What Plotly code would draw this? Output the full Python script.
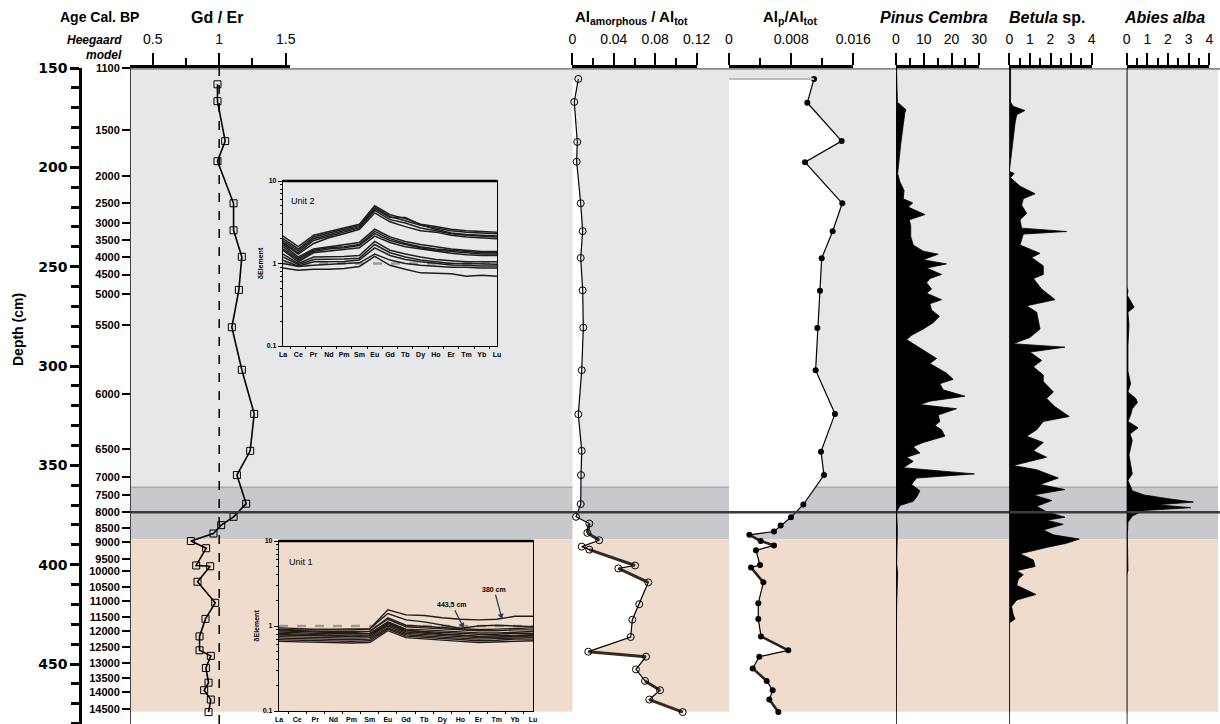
import math
import plotly.graph_objects as go

W, H = 1220, 724
TOP = 68
PH = H - TOP

def px(p):
    return p / W

def py(p):
    return 1 - (p - TOP) / PH

# ---------------- data ----------------
depth_ticks = [150, 200, 250, 300, 350, 400, 450]

age_labels = ["1100", "1500", "2000", "2500", "3000", "3500", "4000", "4500", "5000", "5500",
              "6000", "6500", "7000", "7500", "8000", "8500", "9000", "9500", "10000", "10500",
              "11000", "11500", "12000", "12500", "13000", "13500", "14000", "14500"]
age_depths = [150, 181.2, 204.3, 217.8, 227.9, 236.4, 245.0, 254.0, 263.6, 279.6,
              314.3, 342.0, 356.0, 365.0, 373.6, 381.6, 388.7, 397.2, 403.2, 411.2,
              418.3, 426.3, 433.4, 441.4, 449.4, 457.0, 464.0, 472.5]

# zones: (top depth, bottom depth, colour)
zone_tops = [150, 361.0, 387.6]
zone_bottoms = [361.0, 387.3, 474.0]
zone_colors = ["#e6e7e9", "#c8c9cc", "#efdccd"]
boundary_8000 = 373.6

gd_er_depth = [158.2, 166.7, 186.8, 196.9, 218.1, 231.7, 245.0, 261.7, 280.5, 301.9, 324.1,
               342.7, 354.9, 369.3, 375.9, 380.1, 384.3, 388.1, 391.7, 400.4, 400.8, 408.6,
               419.2, 427.3, 436.1, 443.1, 445.9, 452.0, 459.4, 463.2, 467.9, 474.2]
gd_er = [0.987, 0.987, 1.045, 0.987, 1.108, 1.108, 1.17, 1.148, 1.095, 1.17, 1.263,
         1.233, 1.133, 1.203, 1.108, 1.015, 0.957, 0.787, 0.902, 0.827, 0.932, 0.837,
         0.97, 0.897, 0.852, 0.852, 0.937, 0.90, 0.92, 0.887, 0.937, 0.92]

al_am_depth = [155.5, 167.1, 187.2, 197.2, 218.1, 232.1, 245.6, 261.9, 280.7, 302.1, 324.3,
               342.7, 354.9, 369.5, 375.9, 379.3, 384.0, 387.7, 390.9, 392.4, 400.4, 401.9,
               408.9, 419.9, 427.7, 436.4, 443.8, 446.3, 452.7, 458.5, 463.2, 467.9, 474.2]
al_am = [0.0058, 0.0019, 0.0048, 0.0042, 0.0081, 0.0100, 0.0081, 0.0100, 0.0106, 0.0091, 0.0058,
         0.0091, 0.0084, 0.0081, 0.0036, 0.0164, 0.0145, 0.0260, 0.0091, 0.0164, 0.0605, 0.0444,
         0.0733, 0.0646, 0.0579, 0.0563, 0.0154, 0.0711, 0.0614, 0.0701, 0.0846, 0.0743, 0.1065]
al_am_thick_pairs = [(15, 16), (16, 17), (19, 20), (21, 22), (26, 27), (29, 30), (31, 32)]

al_p_depth = [155.5, 167.5, 186.8, 197.4, 218.1, 232.2, 245.8, 262.1, 280.9, 302.1, 324.1,
              343.1, 354.9, 369.7, 376.1, 380.3, 383.3, 385.0, 388.1, 390.3, 392.8, 400.2,
              401.4, 408.9, 419.4, 427.3, 436.1, 443.1, 446.3, 452.2, 458.5, 463.2, 467.9, 474.2]
al_p = [0.01094, 0.01008, 0.0145, 0.00978, 0.01458, 0.01334, 0.01193, 0.01171, 0.01137, 0.01115,
        0.01364, 0.01184, 0.01223, 0.00957, 0.00798, 0.00665, 0.00579, 0.00262, 0.00408, 0.00579,
        0.00347, 0.00399, 0.00283, 0.00442, 0.00377, 0.00377, 0.00412, 0.00763, 0.0039, 0.00305,
        0.00485, 0.00562, 0.00519, 0.00635]
al_p_thick_pairs = [(17, 18), (18, 19), (22, 23), (26, 27), (29, 30), (32, 33)]

pinus_depth = [150, 152.3, 167.2, 171.0, 172.4, 188.3, 203.1, 207.3, 211.6, 215.8, 217.9, 220.0,
               223.8, 226.4, 229.5, 234.8, 239.1, 242.2, 243.7, 246.5, 248.6, 250.7, 253.9, 256.0,
               258.1, 261.3, 263.4, 266.6, 268.7, 271.8, 275.0, 278.2, 281.4, 284.5, 286.7, 288.8,
               291.9, 296.2, 298.7, 303.6, 306.7, 308.9, 312.0, 315.2, 317.7, 319.4, 321.5, 324.7,
               327.9, 330.0, 332.1, 335.3, 338.5, 340.6, 343.8, 345.9, 348.0, 351.2, 354.3, 356.4,
               359.6, 362.8, 366.0, 368.1, 370.2, 373.4, 382.9, 399.8, 404.0, 421.0, 442.1, 474.9]
pinus = [0.2, 0.24, 0.5, 3.6, 3.2, 1.7, 0.6, 1.4, 2.9, 2.6, 6.0, 4.4,
         10.4, 4.8, 5.3, 5.3, 6.2, 9.8, 15.2, 9.8, 18.2, 11.0, 16.4, 12.2,
         11.0, 12.8, 11.0, 16.4, 12.2, 12.8, 15.6, 13.4, 9.8, 5.6, 3.8, 6.2,
         9.8, 14.6, 12.2, 18.2, 20.6, 15.8, 17.0, 24.8, 12.2, 8.6, 21.8, 15.2,
         15.8, 14.0, 16.4, 17.6, 9.8, 6.2, 8.6, 3.8, 6.2, 2.6, 28.2, 7.4,
         5.6, 8.6, 7.4, 6.2, 1.4, 0.24, 0.5, 0.24, 0.6, 0.24, 0.1, 0.0]

betula_depth = [150, 152.3, 167.2, 169.3, 171.4, 173.5, 177.7, 188.3, 198.9, 202.0, 203.1, 205.2,
                209.5, 213.3, 215.8, 219.0, 223.2, 226.4, 230.6, 232.3, 233.6, 239.1, 243.3, 245.4,
                249.6, 253.9, 256.0, 261.3, 266.6, 269.7, 272.9, 277.1, 281.4, 285.6, 288.8, 290.5,
                293.0, 297.2, 300.4, 304.6, 307.8, 313.1, 316.3, 320.5, 325.4, 327.9, 332.1, 335.3,
                338.5, 342.7, 345.9, 350.1, 352.2, 356.4, 359.6, 362.2, 364.9, 367.7, 370.6, 373.4,
                376.1, 377.6, 379.7, 382.5, 385.0, 387.1, 389.2, 391.3, 394.5, 397.7, 400.9, 403.0,
                405.1, 407.2, 410.4, 415.0, 417.8, 421.0, 425.2, 427.3, 429.4, 474.9]
betula = [0.06, 0.06, 0.06, 0.19, 0.76, 0.36, 0.28, 0.16, 0.06, 0.0, 0.23, 0.06,
          0.52, 1.25, 0.68, 0.60, 0.84, 0.52, 0.60, 2.78, 0.68, 0.52, 1.49, 1.08,
          1.65, 1.65, 1.17, 1.57, 2.22, 0.84, 1.33, 1.41, 1.49, 1.00, 0.19, 2.70,
          1.00, 1.57, 1.17, 1.65, 1.65, 2.14, 1.81, 2.22, 2.91, 1.65, 1.33, 0.84,
          1.65, 1.17, 1.81, 0.19, 1.33, 2.38, 1.49, 2.70, 1.17, 2.06, 1.33, 1.81,
          2.70, 1.81, 2.62, 1.65, 2.14, 3.40, 2.78, 1.81, 0.52, 1.17, 1.25, 0.36,
          0.68, 0.44, 0.36, 1.29, 0.36, 0.11, 0.19, 0.28, 0.0, 0.0]

abies_depth = [150, 260.2, 261.9, 264.4, 270.4, 272.9, 279.2, 289.8, 302.5, 308.9, 313.1, 316.3,
               318.4, 321.5, 324.7, 327.9, 331.1, 334.2, 337.4, 344.8, 354.3, 357.5, 362.8, 364.9,
               367.0, 368.5, 369.8, 371.3, 372.7, 375.5, 378.7, 385.0, 403.0, 405.1, 474.9]
abies = [0.0, 0.0, 0.06, 0.03, 0.36, 0.06, 0.11, 0.06, 0.06, 0.19, 0.06, 0.44,
         0.52, 0.27, 0.19, 0.06, 0.55, 0.16, 0.27, 0.11, 0.27, 0.06, 0.27, 0.84,
         2.13, 3.23, 1.49, 3.10, 0.84, 0.27, 0.06, 0.03, 0.06, 0.0, 0.0]

elements = ["La", "Ce", "Pr", "Nd", "Pm", "Sm", "Eu", "Gd", "Tb", "Dy", "Ho", "Er", "Tm", "Yb", "Lu"]

unit2_profiles = [
    [2.15, 1.60, 2.20, 2.45, 2.70, 3.00, 5.00, 3.90, 3.50, 3.00, 2.80, 2.60, 2.50, 2.45, 2.40],
    [2.00, 1.50, 2.10, 2.35, 2.60, 2.90, 4.80, 3.70, 3.30, 2.90, 2.70, 2.50, 2.40, 2.35, 2.30],
    [1.90, 1.42, 2.00, 2.25, 2.50, 2.80, 4.60, 3.60, 3.60, 2.95, 2.60, 2.35, 2.25, 2.20, 2.15],
    [1.80, 1.35, 1.90, 2.15, 2.40, 2.70, 4.40, 3.40, 3.10, 2.70, 2.50, 2.30, 2.20, 2.15, 2.10],
    [1.75, 1.30, 1.75, 2.05, 2.30, 2.60, 4.10, 3.20, 2.80, 2.50, 2.40, 2.20, 2.10, 2.05, 2.00],
    [1.70, 1.20, 1.50, 1.60, 1.70, 1.80, 2.60, 2.10, 1.85, 1.70, 1.60, 1.50, 1.45, 1.40, 1.40],
    [1.60, 1.15, 1.45, 1.55, 1.60, 1.70, 2.45, 2.00, 1.75, 1.60, 1.50, 1.45, 1.40, 1.35, 1.35],
    [1.50, 1.10, 1.40, 1.50, 1.55, 1.65, 2.30, 1.90, 1.70, 1.55, 1.45, 1.40, 1.35, 1.30, 1.30],
    [1.45, 1.05, 1.35, 1.42, 1.48, 1.55, 2.15, 1.80, 1.60, 1.50, 1.40, 1.33, 1.28, 1.25, 1.25],
    [1.30, 1.00, 1.20, 1.20, 1.22, 1.25, 1.85, 1.45, 1.30, 1.20, 1.12, 1.08, 1.05, 1.05, 1.05],
    [1.20, 0.97, 1.12, 1.12, 1.13, 1.16, 1.70, 1.35, 1.20, 1.10, 1.05, 1.00, 1.00, 0.98, 0.98],
    [1.10, 0.93, 1.05, 1.05, 1.06, 1.10, 1.55, 1.25, 1.12, 1.05, 1.00, 0.96, 0.95, 0.93, 0.93],
    [1.00, 0.92, 0.95, 0.98, 1.00, 1.02, 1.30, 1.10, 1.00, 0.95, 0.92, 0.90, 0.90, 0.88, 0.88],
    [0.88, 0.83, 0.85, 0.85, 0.87, 0.92, 1.22, 0.95, 0.85, 0.77, 0.76, 0.75, 0.70, 0.72, 0.70],
]

unit1_profiles = [
    [0.92, 0.90, 0.90, 0.90, 0.90, 0.92, 1.55, 1.35, 1.33, 1.25, 1.20, 1.18, 1.20, 1.30, 1.30],
    [0.95, 0.93, 0.92, 0.92, 0.92, 0.93, 1.40, 1.18, 1.12, 1.02, 0.94, 1.00, 1.02, 1.00, 0.98],
    [0.90, 0.88, 0.87, 0.86, 0.86, 0.87, 1.20, 0.98, 0.95, 0.93, 0.90, 0.88, 0.88, 0.90, 0.90],
    [0.88, 0.86, 0.85, 0.84, 0.84, 0.86, 1.25, 1.02, 0.98, 0.96, 0.93, 0.91, 0.92, 0.94, 0.95],
    [0.85, 0.83, 0.82, 0.81, 0.81, 0.82, 1.12, 0.92, 0.90, 0.88, 0.85, 0.83, 0.83, 0.85, 0.86],
    [0.82, 0.80, 0.79, 0.78, 0.78, 0.79, 1.08, 0.88, 0.86, 0.84, 0.82, 0.80, 0.80, 0.82, 0.82],
    [0.80, 0.78, 0.78, 0.77, 0.76, 0.77, 1.10, 0.90, 0.84, 0.80, 0.78, 0.75, 0.74, 0.76, 0.78],
    [0.78, 0.77, 0.76, 0.75, 0.75, 0.76, 1.04, 0.85, 0.82, 0.80, 0.78, 0.76, 0.77, 0.78, 0.79],
    [0.75, 0.74, 0.73, 0.72, 0.72, 0.73, 1.00, 0.82, 0.79, 0.77, 0.75, 0.73, 0.74, 0.75, 0.76],
    [0.72, 0.71, 0.70, 0.69, 0.69, 0.70, 0.95, 0.79, 0.76, 0.74, 0.72, 0.70, 0.71, 0.72, 0.73],
    [0.69, 0.68, 0.67, 0.66, 0.66, 0.67, 0.92, 0.76, 0.74, 0.72, 0.69, 0.67, 0.68, 0.70, 0.70],
    [0.66, 0.65, 0.64, 0.63, 0.63, 0.64, 0.88, 0.73, 0.71, 0.69, 0.66, 0.64, 0.65, 0.67, 0.67],
]

# ---------------- figure ----------------
FONT = "Liberation Sans"
fig = go.Figure()

def pair_segments(vals, deps, pairs):
    xs, ys = [], []
    for a, b in pairs:
        xs += [vals[a], vals[b], None]
        ys += [deps[a], deps[b], None]
    return xs, ys

fig.add_trace(go.Scatter(x=gd_er, y=gd_er_depth, xaxis="x", yaxis="y", mode="lines+markers",
                         line=dict(color="black", width=1.6),
                         marker=dict(symbol="square-open", size=7, color="black", line=dict(width=1)),
                         showlegend=False, cliponaxis=False))
# invisible trace for the age axis
fig.add_trace(go.Scatter(x=[1.0] * len(age_depths), y=age_depths, xaxis="x", yaxis="y2",
                         mode="markers", marker=dict(opacity=0), showlegend=False, hoverinfo="skip"))

fig.add_trace(go.Scatter(x=al_am, y=al_am_depth, xaxis="x2", yaxis="y", mode="lines",
                         fill="tozerox", fillcolor="white",
                         line=dict(color="black", width=1.2), showlegend=False))
sx, sy = pair_segments(al_am, al_am_depth, al_am_thick_pairs)
fig.add_trace(go.Scatter(x=sx, y=sy, xaxis="x2", yaxis="y", mode="lines",
                         line=dict(color="#3a2a1e", width=3), showlegend=False))
fig.add_trace(go.Scatter(x=al_am, y=al_am_depth, xaxis="x2", yaxis="y", mode="markers",
                         marker=dict(symbol="circle-open", size=7, color="black", line=dict(width=1)),
                         showlegend=False, cliponaxis=False))

fig.add_trace(go.Scatter(x=al_p, y=al_p_depth, xaxis="x3", yaxis="y", mode="lines",
                         fill="tozerox", fillcolor="white",
                         line=dict(color="black", width=1.2), showlegend=False))
sx, sy = pair_segments(al_p, al_p_depth, al_p_thick_pairs)
fig.add_trace(go.Scatter(x=sx, y=sy, xaxis="x3", yaxis="y", mode="lines",
                         line=dict(color="#2a211a", width=2.6), showlegend=False))
fig.add_trace(go.Scatter(x=al_p, y=al_p_depth, xaxis="x3", yaxis="y", mode="markers",
                         marker=dict(symbol="circle", size=6, color="black"),
                         showlegend=False, cliponaxis=False))

for xa, vals, deps in (("x4", pinus, pinus_depth), ("x5", betula, betula_depth), ("x6", abies, abies_depth)):
    fig.add_trace(go.Scatter(x=vals, y=deps, xaxis=xa, yaxis="y", mode="lines",
                             fill="tozerox", fillcolor="black",
                             line=dict(color="black", width=0.8), showlegend=False))

for prof in unit2_profiles:
    fig.add_trace(go.Scatter(x=elements, y=prof, xaxis="x7", yaxis="y7", mode="lines",
                             line=dict(color="#1e1e1e", width=1.5), showlegend=False))
for prof in unit1_profiles:
    fig.add_trace(go.Scatter(x=elements, y=prof, xaxis="x8", yaxis="y8", mode="lines",
                             line=dict(color="#241c16", width=1.4), showlegend=False))

# ---------------- shapes ----------------
shapes = []
for t, b, c in zip(zone_tops, zone_bottoms, zone_colors):
    shapes.append(dict(type="rect", xref="paper", yref="y", x0=px(130), x1=px(1218), y0=t, y1=b,
                       fillcolor=c, line=dict(width=0), layer="below"))
shapes.append(dict(type="line", xref="paper", yref="y", x0=px(130), x1=px(1218),
                   y0=zone_tops[1], y1=zone_tops[1], line=dict(color="#a9aaad", width=1.5), layer="below"))
shapes.append(dict(type="line", xref="paper", yref="y", x0=px(130), x1=px(1220),
                   y0=boundary_8000, y1=boundary_8000, line=dict(color="#3a3a3a", width=2.5), layer="above"))
shapes.append(dict(type="line", xref="paper", yref="y", x0=px(130), x1=px(1220),
                   y0=150, y1=150, line=dict(color="#8a8a8a", width=3.5), layer="below"))
shapes.append(dict(type="line", xref="x", yref="paper", x0=1, x1=1, y0=0, y1=1,
                   line=dict(color="black", width=1.5, dash="dash"), layer="above"))
for xa in ("x4", "x5", "x6"):
    shapes.append(dict(type="line", xref=xa, yref="paper", x0=0, x1=0, y0=0, y1=1,
                       line=dict(color="black", width=1.5), layer="above"))
shapes.append(dict(type="line", xref="x3", yref="y", x0=0, x1=al_p[0], y0=al_p_depth[0], y1=al_p_depth[0],
                   line=dict(color="#bdbdbd", width=2), layer="above"))
for xa, ya in (("x7", "y7"), ("x8", "y8")):
    shapes.append(dict(type="line", xref=xa + " domain", yref=ya, x0=0, x1=1, y0=1, y1=1,
                       line=dict(color="#9a9a9a", width=2.5, dash="dash"), layer="below"))
    shapes.append(dict(type="line", xref=xa + " domain", yref=ya + " domain", x0=0, x1=1, y0=1, y1=1,
                       line=dict(color="black", width=2.5), layer="above"))

# ---------------- axes ----------------
def top_axis(d0, d1, rng, tv, tt, minor_dtick):
    return dict(domain=[px(d0), px(d1)], range=rng, anchor="y", side="top", automargin=False,
                showline=True, linecolor="black", linewidth=2.5,
                ticks="outside", ticklen=12, tickwidth=1.5, tickcolor="black",
                tickmode="array", tickvals=tv, ticktext=tt, ticklabelstandoff=4,
                tickfont=dict(family=FONT, size=14, color="black"),
                minor=dict(ticks="outside", ticklen=7, tickwidth=1.5, tickcolor="black",
                           tickmode="linear", tick0=0, dtick=minor_dtick),
                showgrid=False, zeroline=False, fixedrange=True)

gd_scale = 133.0
layout_axes = dict(
    xaxis=top_axis(130, 290, [0.5 - (152.7 - 130) / gd_scale, 0.5 + (290 - 152.7) / gd_scale],
                   [0.5, 1, 1.5], ["0.5", "1", "1.5"], 0.25),
    xaxis2=top_axis(572.3, 696.7, [0, 0.12], [0, 0.04, 0.08, 0.12], ["0", "0.04", "0.08", "0.12"], 0.02),
    xaxis3=top_axis(729, 853.3, [0, 0.016], [0, 0.008, 0.016], ["0", "0.008", "0.016"], 0.004),
    xaxis4=top_axis(896, 979.3, [0, 30], [0, 10, 20, 30], ["0", "10", "20", "30"], 5),
    xaxis5=top_axis(1009.3, 1091.7, [0, 4], [0, 1, 2, 3, 4], ["0", "1", "2", "3", "4"], 0.5),
    xaxis6=top_axis(1126.7, 1209.3, [0, 4], [0, 1, 2, 3, 4], ["0", "1", "2", "3", "4"], 0.5),
)

depth_range = [150 + PH / 1.9867, 150]
layout_axes["yaxis"] = dict(domain=[0, 1], range=depth_range, anchor="free", position=px(80), side="left",
                            automargin=False,
                            showline=True, linecolor="black", linewidth=2.5,
                            ticks="outside", ticklen=9, tickwidth=2.5, tickcolor="black",
                            tickmode="array", tickvals=depth_ticks,
                            tickfont=dict(family="DejaVu Sans", size=14, color="black", weight="bold"),
                            minor=dict(ticks="outside", ticklen=8, tickwidth=2.5, tickcolor="black",
                                       tickmode="linear", tick0=0, dtick=10),
                            showgrid=False, zeroline=False, fixedrange=True)
layout_axes["yaxis2"] = dict(overlaying="y", range=depth_range, anchor="free", position=px(130), side="left",
                             automargin=False,
                             showline=True, linecolor="#444", linewidth=1,
                             ticks="outside", ticklen=8, tickwidth=2, tickcolor="black",
                             tickmode="array", tickvals=age_depths, ticktext=age_labels,
                             tickfont=dict(family="Liberation Sans Narrow, Liberation Sans", size=11,
                                           color="black", weight="bold"),
                             showgrid=False, zeroline=False, fixedrange=True)

minor_log = [0.2, 0.3, 0.4, 0.5, 0.6, 0.7, 0.8, 0.9, 2, 3, 4, 5, 6, 7, 8, 9]

def inset_axes(x0, x1, y_top, y_bot, anchor_x, anchor_y):
    xa = dict(domain=[px(x0), px(x1)], anchor=anchor_y, type="category", automargin=False,
              categoryorder="array", categoryarray=elements, tickson="boundaries",
              tickmode="linear", tick0=0, dtick=1, tickangle=0,
              ticks="outside", ticklen=2, tickwidth=1, tickcolor="black", ticklabelstandoff=1,
              showline=True, linecolor="black", linewidth=1.3, mirror=True,
              tickfont=dict(family=FONT, size=7, color="black", weight="bold"),
              showgrid=False, zeroline=False, fixedrange=True)
    ya = dict(domain=[py(y_bot), py(y_top)], anchor=anchor_x, type="log", range=[-1, 1], automargin=False,
              tickmode="array", tickvals=[0.1, 1, 10], ticktext=["0.1", "1", "10"],
              ticks="outside", ticklen=4, tickwidth=1, tickcolor="black",
              showline=True, linecolor="black", linewidth=1.3, mirror=True,
              minor=dict(ticks="outside", ticklen=2, tickwidth=1, tickcolor="black",
                         tickmode="array", tickvals=minor_log),
              tickfont=dict(family=FONT, size=7, color="black", weight="bold"),
              title=dict(text="δElement", font=dict(family=FONT, size=7, color="black", weight="bold"),
                         standoff=2),
              showgrid=False, zeroline=False, fixedrange=True)
    return xa, ya

layout_axes["xaxis7"], layout_axes["yaxis7"] = inset_axes(283, 497, 181, 346, "x7", "y7")
layout_axes["xaxis8"], layout_axes["yaxis8"] = inset_axes(279, 533, 541, 711, "x8", "y8")

# ---------------- annotations ----------------
def txt(x, y, text, size=14, bold=True, italic=False, xanchor="center", angle=0, fam=FONT):
    t = f"<i>{text}</i>" if italic else text
    return dict(x=px(x), y=py(y), xref="paper", yref="paper", text=t, showarrow=False,
                xanchor=xanchor, yanchor="middle", textangle=angle,
                font=dict(family=fam, size=size, color="black", weight="bold" if bold else "normal"))

annotations = [
    txt(99, 17, "Age Cal. BP", 14),
    txt(124, 40, "Heegaard", 12, italic=True, xanchor="right"),
    txt(124, 55, "model", 12, italic=True, xanchor="right"),
    txt(217, 17, "Gd / Er", 16),
    txt(631, 17, "Al<sub>amorphous</sub> / Al<sub>tot</sub>", 15),
    txt(790, 17, "Al<sub>p</sub>/Al<sub>tot</sub>", 15),
    txt(934, 17, "Pinus Cembra", 16, italic=True),
    txt(1047, 17, "<i>Betula</i> sp.", 16),
    txt(1164, 17, "Abies alba", 16, italic=True),
    txt(18, 330, "Depth (cm)", 14, angle=-90),
    dict(x=0.03, y=0.92, xref="x7 domain", yref="y7 domain", text="Unit 2", showarrow=False,
         xanchor="left", font=dict(family=FONT, size=9, color="black")),
    dict(x=0.03, y=0.92, xref="x8 domain", yref="y8 domain", text="Unit 1", showarrow=False,
         xanchor="left", font=dict(family=FONT, size=9, color="black")),
    dict(x=elements.index("Ho") + 0.2, y=math.log10(0.93), xref="x8", yref="y8", text="443,5 cm",
         showarrow=True, arrowhead=2, arrowsize=0.9, arrowwidth=1.3, ax=-12, ay=-24,
         font=dict(family=FONT, size=7, color="black", weight="bold")),
    dict(x=elements.index("Tm") + 0.3, y=math.log10(1.19), xref="x8", yref="y8", text="380 cm",
         showarrow=True, arrowhead=2, arrowsize=0.9, arrowwidth=1.3, ax=-8, ay=-30,
         font=dict(family=FONT, size=7, color="black", weight="bold")),
]

fig.update_layout(width=W, height=H, margin=dict(l=0, r=0, t=TOP, b=0, autoexpand=False),
                  paper_bgcolor="white", plot_bgcolor="rgba(0,0,0,0)",
                  font=dict(family=FONT, color="black"),
                  shapes=shapes, annotations=annotations, showlegend=False,
                  **layout_axes)

fig.write_html("out.html", config={"displayModeBar": False},
               post_script="document.body.style.margin='0';document.body.style.overflow='hidden';")
